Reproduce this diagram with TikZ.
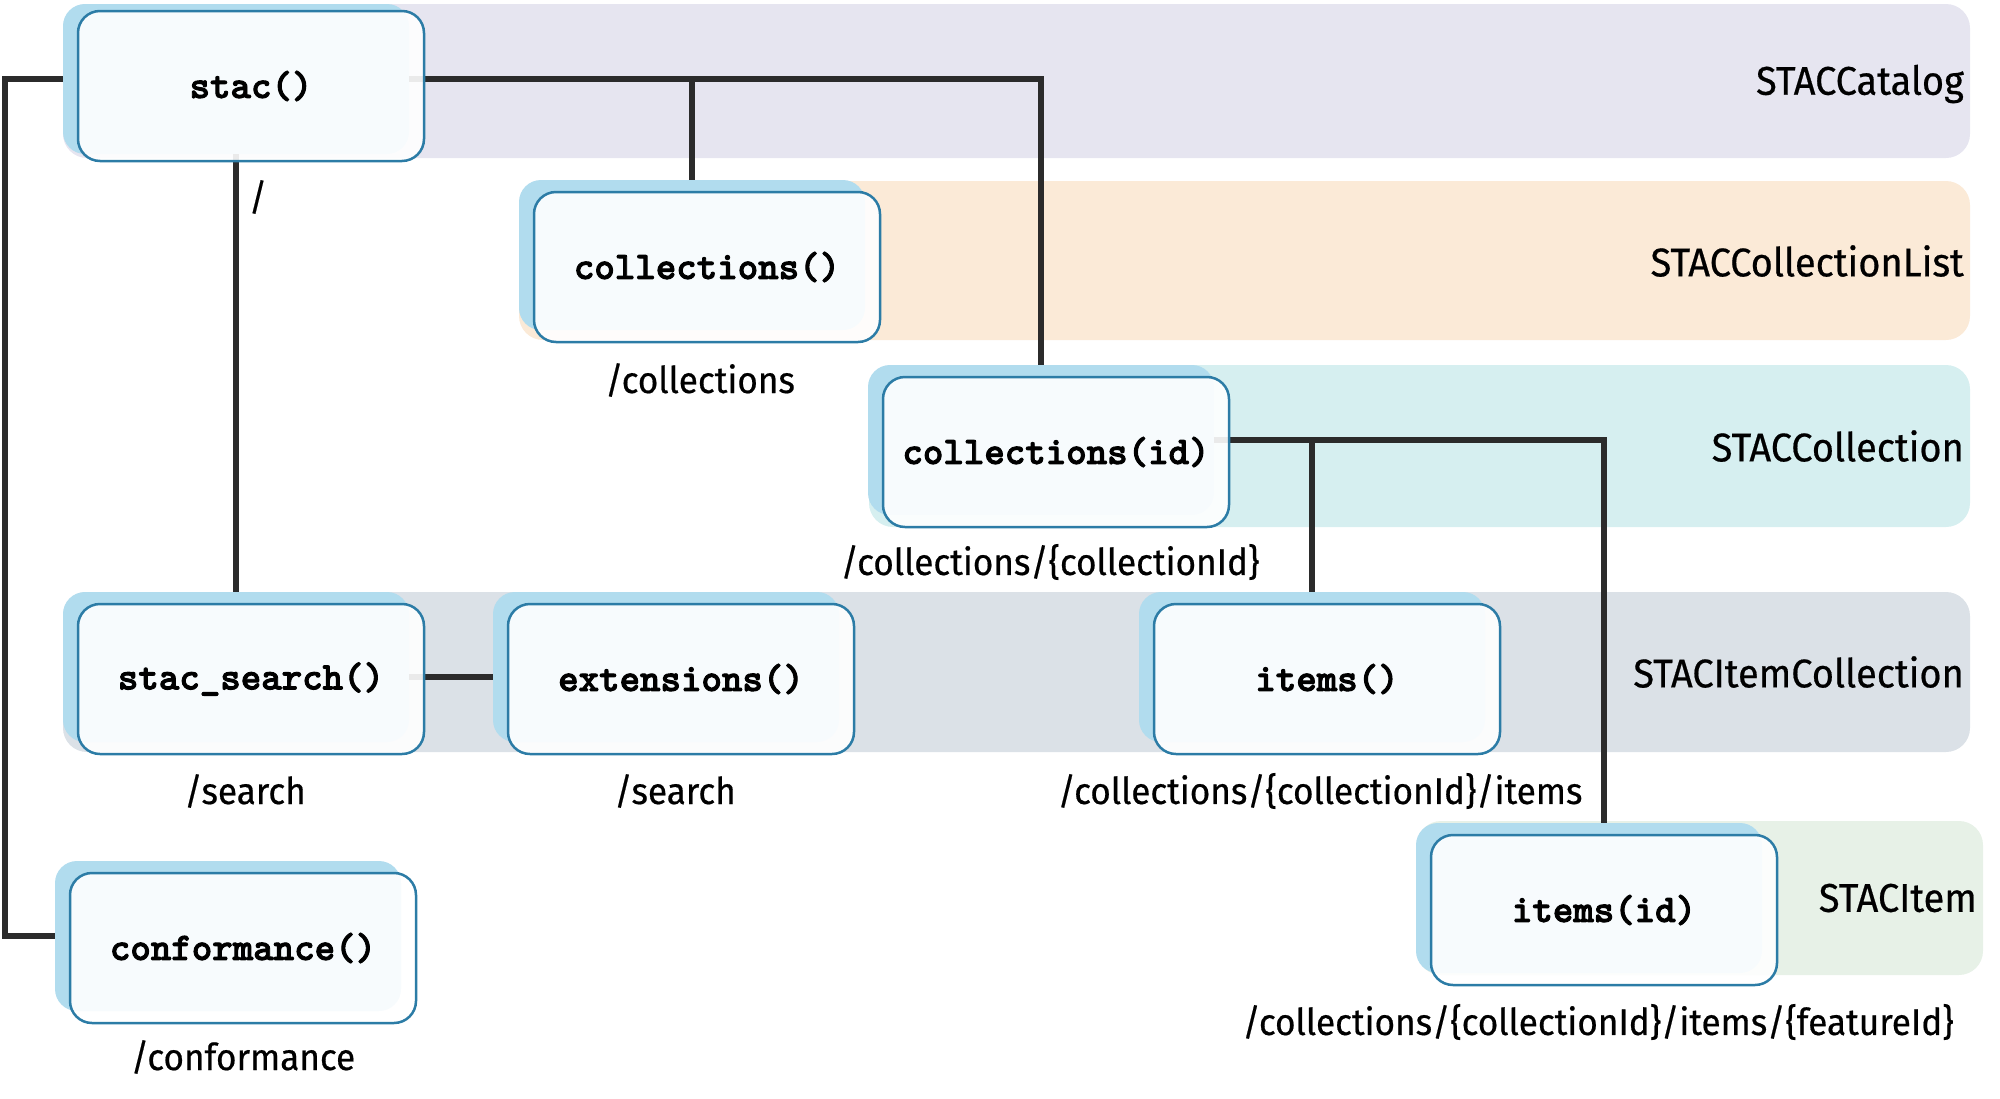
\documentclass[tikz,border=0pt]{standalone}
\usepackage{fontspec}
\newfontfamily\lblfont{Fira Sans}[FakeStretch=0.95, FakeBold=0.5]
\newfontfamily\codefont{lmmonolt10-bold.otf}[FakeBold=2.4]
\usetikzlibrary{calc}

\definecolor{catbg}{HTML}{E6E5F0}
\definecolor{clistbg}{HTML}{FBEAD7}
\definecolor{collbg}{HTML}{D6EFF0}
\definecolor{icollbg}{HTML}{DBE1E7}
\definecolor{itembg}{HTML}{E7F1E7}
\definecolor{shade}{HTML}{B1DCEE}
\definecolor{edge}{HTML}{2C7CA6}
\definecolor{wire}{HTML}{2B2B2B}

\tikzset{
  band/.style={fill=#1, draw=none, rounded corners=24pt},
  bandlabel/.style={anchor=east, inner sep=0pt, font=\lblfont\fontsize{40}{44}\selectfont},
  pathlabel/.style={inner sep=0pt, font=\lblfont\fontsize{37}{40}\selectfont},
  boxshade/.style={fill=shade, draw=none, rounded corners=22pt,
    minimum width=346pt, minimum height=150pt, inner sep=0pt},
  apibox/.style={fill=white, fill opacity=0.9, text opacity=1, draw=edge,
    line width=2.5pt, rounded corners=22pt, minimum width=346pt,
    minimum height=150pt, inner sep=0pt,
    font=\codefont\fontsize{39}{40}\selectfont},
  wireline/.style={draw=wire, line width=5.5pt}
}

\begin{document}
\begin{tikzpicture}[x=1pt, y=-1pt]
\useasboundingbox (0,0) rectangle (2000,1098);

% layer bands
\fill[band=catbg]   (63,4)    rectangle (1970,158);
\fill[band=clistbg] (519,181) rectangle (1970,340);
\fill[band=collbg]  (869,365) rectangle (1970,527);
\fill[band=icollbg] (63,592)  rectangle (1970,752);
\fill[band=itembg]  (1417,821) rectangle (1983,975);

\node[bandlabel] (lcat)   at (1964,84)  {STACCatalog};
\node[bandlabel] (lclist) at (1964,261) {STACCollectionList};
\node[bandlabel] (lcoll)  at (1964,446) {STACCollection};
\node[bandlabel] (licoll) at (1964,672) {STACItemCollection};
\node[bandlabel] (litem)  at (1977,898) {STACItem};

% shadows behind the function boxes
\node[boxshade] (stacS) at (236,79)   {};
\node[boxshade] (collS) at (692,255)  {};
\node[boxshade] (cidS)  at (1041,440) {};
\node[boxshade] (ssS)   at (236,667)  {};
\node[boxshade] (extS)  at (666,667)  {};
\node[boxshade] (itmS)  at (1312,667) {};
\node[boxshade] (iidS)  at (1589,898) {};
\node[boxshade] (confS) at (228,936)  {};

% junction helpers
\coordinate (rail) at (5,0);
\coordinate (iidtop) at (1604,823);

% connectors
\draw[wireline] (stacS.east) -| (collS.north);
\draw[wireline] (stacS.east) -| (cidS.north);
\draw[wireline] (stacS.west) -- (stacS.west -| rail) |- (confS.west);
\draw[wireline] (stacS.south) -- (ssS.north);
\draw[wireline] ([yshift=-10pt]ssS.east) -- ([yshift=-10pt]extS.west);
\draw[wireline] (cidS.east) -| (itmS.north);
\draw[wireline] (cidS.east) -| (iidtop);

% function boxes
\node[apibox] (stac) at (251,86)   {stac()};
\node[apibox] (coll) at (707,267)  {collections()};
\node[apibox] (cid)  at (1056,452) {collections(id)};
\node[apibox] (ss)   at (251,679)  {stac\_search()};
\node[apibox] (ext)  at (681,679)  {extensions()};
\node[apibox] (itm)  at (1327,679) {items()};
\node[apibox] (iid)  at (1604,910) {items(id)};
\node[apibox] (conf) at (243,948)  {conformance()};

% endpoint paths
\node[pathlabel] (proot)  at (258,197)  {/};
\node[pathlabel] (pcoll)  at (700,380)  {/collections};
\node[pathlabel] (pcid)   at (1050,562) {/collections/\{collectionId\}};
\node[pathlabel] (pss)    at (245,791)  {/search};
\node[pathlabel] (pext)   at (675,791)  {/search};
\node[pathlabel] (pitm)   at (1320,791) {/collections/\{collectionId\}/items};
\node[pathlabel] (piid)   at (1598,1022) {/collections/\{collectionId\}/items/\{featureId\}};
\node[pathlabel] (pconf)  at (243,1057) {/conformance};
\end{tikzpicture}
\end{document}
